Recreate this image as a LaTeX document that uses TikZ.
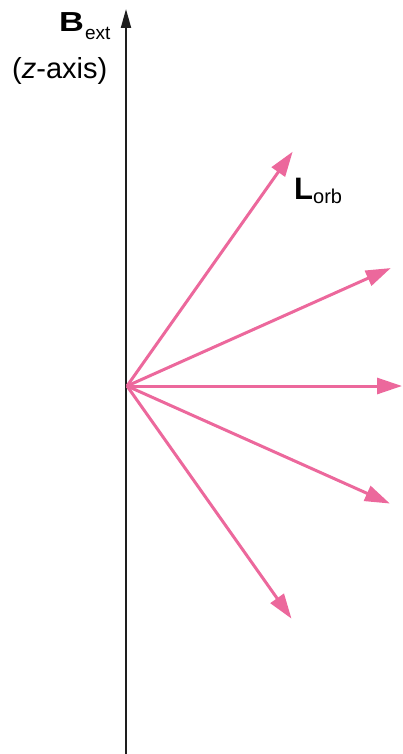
\documentclass[tikz,border=0pt]{standalone}
\usepackage{fontspec}
\usepackage{graphicx}
\setmainfont{Liberation Sans}
\usetikzlibrary{arrows.meta,calc}
\definecolor{lpink}{RGB}{236,104,156}
\definecolor{axisgray}{RGB}{30,30,30}
\begin{document}
\begin{tikzpicture}[x=1pt,y=-1pt,
  vec/.style={draw=lpink,line width=3pt,-{Triangle[length=25pt,width=16pt]}},
  zaxis/.style={draw=axisgray,line width=2pt,-{Triangle[length=19pt,width=10pt]}},
  lbl/.style={inner sep=0pt,anchor=base west}]
\useasboundingbox (0,0) rectangle (402,754);
\coordinate (bot) at (126,754);
\coordinate (top) at (126,9);
\draw[zaxis] (bot) -- (top);
\coordinate (o) at (127,386);
\coordinate (t1) at ($(o)+(-54.74:287)$);
\coordinate (t2) at ($(o)+(-24.09:289)$);
\coordinate (t3) at (402,386);
\coordinate (t4) at ($(o)+(24.09:288)$);
\coordinate (t5) at ($(o)+(54.74:285)$);
\foreach \t in {t1,t2,t3,t4,t5} \draw[vec] (o) -- (\t);
\node[lbl] (bext) at (59,32) {\fontsize{27.5}{32}\selectfont\scalebox{1.25}[1]{\bfseries B}\kern1pt\raisebox{-7.3pt}{\fontsize{19}{23}\selectfont ext}};
\node[lbl] (zax) at (12,79) {\fontsize{29}{34}\selectfont(\textit{z}-axis)};
\node[lbl] (lorb) at (294,199) {\fontsize{31}{36}\selectfont\bfseries L\raisebox{-4pt}{\fontsize{20}{24}\mdseries\selectfont orb}};
\end{tikzpicture}
\end{document}
